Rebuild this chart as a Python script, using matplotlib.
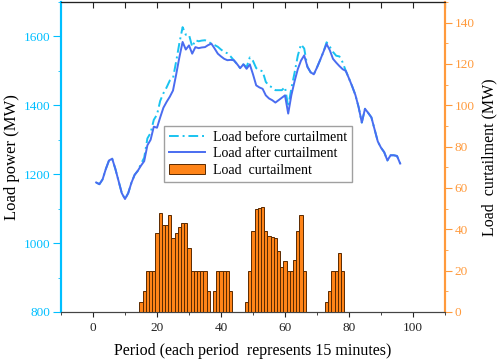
import matplotlib.pyplot as plt
from matplotlib.ticker import MultipleLocator

plt.rcParams['font.family'] = ['Liberation Serif', 'DejaVu Serif']

# period index, 15-minute steps
periods = list(range(1, 97))

load_after = [1176, 1171, 1185, 1215, 1240, 1245, 1215, 1180, 1145, 1128,
              1145, 1175, 1198, 1210, 1225, 1238, 1284, 1300, 1338, 1335,
              1365, 1393, 1410, 1425, 1443, 1490, 1540, 1584, 1562, 1574,
              1550, 1569, 1566, 1568, 1569, 1575, 1579, 1565, 1550, 1542,
              1535, 1531, 1532, 1531, 1520, 1508, 1519, 1506, 1519, 1490,
              1458, 1452, 1448, 1429, 1420, 1415, 1408, 1415, 1422, 1429,
              1376, 1430, 1470, 1505, 1530, 1545, 1512, 1496, 1490, 1510,
              1532, 1555, 1578, 1560, 1535, 1524, 1514, 1505, 1500, 1478,
              1455, 1430, 1395, 1350, 1390, 1378, 1365, 1330, 1295, 1277,
              1264, 1240, 1255, 1255, 1253, 1231]

load_before = [1176, 1171, 1185, 1215, 1240, 1245, 1215, 1180, 1145, 1128,
               1145, 1175, 1198, 1210, 1230, 1248, 1304, 1320, 1358, 1373,
               1413, 1435, 1452, 1472, 1479, 1528, 1581, 1627, 1605, 1605,
               1570, 1589, 1586, 1588, 1589, 1585, 1579, 1575, 1570, 1562,
               1555, 1551, 1542, 1531, 1520, 1508, 1519, 1511, 1539, 1529,
               1508, 1502, 1499, 1468, 1457, 1452, 1444, 1444, 1444, 1453,
               1396, 1450, 1495, 1544, 1577, 1565, 1512, 1496, 1490, 1510,
               1532, 1555, 1583, 1570, 1555, 1544, 1542, 1525, 1500, 1478,
               1455, 1430, 1395, 1350, 1390, 1378, 1365, 1330, 1295, 1277,
               1264, 1240, 1255, 1255, 1253, 1231]

curtailment = [0, 0, 0, 0, 0, 0, 0, 0, 0, 0,
               0, 0, 0, 0, 5, 10, 20, 20, 20, 38,
               48, 42, 42, 47, 36, 38, 41, 43, 43, 31,
               20, 20, 20, 20, 20, 10, 0, 10, 20, 20,
               20, 20, 10, 0, 0, 0, 0, 5, 20, 39,
               50, 50.5, 51, 39, 37, 36.5, 36, 29.5, 22, 24.5,
               20, 20, 25, 39, 47, 20, 0, 0, 0, 0,
               0, 0, 5, 10, 20, 20, 28.5, 20, 0, 0,
               0, 0, 0, 0, 0, 0, 0, 0, 0, 0,
               0, 0, 0, 0, 0, 0]

cyan = '#00BFFF'
blue = '#4A6CF0'
orange = '#FF9A3C'

fig = plt.figure(figsize=(4.98, 3.64), dpi=100)
ax = fig.add_axes([61 / 498, 52 / 364, 384 / 498, 310 / 364])
ax2 = ax.twinx()

l1, = ax.plot(periods, load_before, color='#19C3F0', lw=1.4, ls=(0, (5, 2, 1, 2)),
              label='Load before curtailment')
l2, = ax.plot(periods, load_after, color=blue, lw=1.4, label='Load after curtailment')
b = ax2.bar(periods, curtailment, width=1.0, color='#FF8418', edgecolor='#5A2A00',
            linewidth=0.7, label='Load  curtailment')

ax.set_xlim(-10, 110)
ax.set_ylim(800, 1700)
ax2.set_ylim(0, 150)

ax.xaxis.set_major_locator(MultipleLocator(20))
ax.xaxis.set_minor_locator(MultipleLocator(10))
ax.yaxis.set_major_locator(MultipleLocator(200))
ax.yaxis.set_minor_locator(MultipleLocator(100))
ax2.yaxis.set_major_locator(MultipleLocator(20))
ax2.yaxis.set_minor_locator(MultipleLocator(10))

ax.tick_params(axis='x', which='major', length=3.5, labelsize=9.5, colors='#222222', pad=4)
ax.tick_params(axis='x', which='minor', length=2.5, color='#222222')
ax.tick_params(axis='y', which='major', length=5.5, color=cyan, labelcolor=cyan,
               labelsize=9.5, pad=2)
ax.tick_params(axis='y', which='minor', length=2.5, color=cyan)
ax2.tick_params(axis='y', which='major', length=5, color=orange, labelcolor=orange,
                labelsize=9.5, pad=2)
ax2.tick_params(axis='y', which='minor', length=2.5, color=orange)

top = ax.secondary_xaxis('top')
top.set_xticks(range(0, 111, 10))
top.tick_params(direction='in', length=4, labeltop=False, color='#222222')
top.spines['top'].set_color('#222222')

for a in (ax, ax2):
    a.spines['left'].set_color(cyan)
    a.spines['left'].set_linewidth(1.5)
    a.spines['right'].set_color(orange)
    a.spines['right'].set_linewidth(1.5)
    a.spines['bottom'].set_color('#444444')
    a.spines['top'].set_color('#222222')

ax.set_xlabel('Period (each period  represents 15 minutes)', fontsize=11.5, labelpad=6)
ax.set_ylabel('Load power (MW)', fontsize=12, labelpad=3)
ax2.set_ylabel('Load  curtailment (MW)', fontsize=11.5, labelpad=5)

leg = ax2.legend([l1, l2, b], ['Load before curtailment', 'Load after curtailment', 'Load  curtailment'],
                 loc='upper left', bbox_to_anchor=(0.268, 0.6), borderaxespad=0,
                 fontsize=10, frameon=True, fancybox=False, edgecolor='#888888',
                 handlelength=2.6, handletextpad=0.6, labelspacing=0.25, borderpad=0.35)
leg.get_frame().set_linewidth(1.0)

fig.savefig('out.png', dpi=100)
